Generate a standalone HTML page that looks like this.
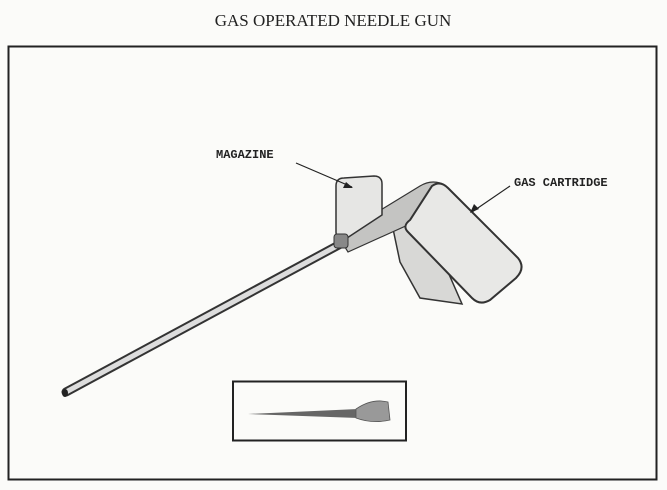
<!DOCTYPE html>
<html><head><style>
html,body{margin:0;padding:0;background:#fbfbf9;}
svg{display:block}
</style></head><body>
<svg width="667" height="490" viewBox="0 0 667 490" xmlns="http://www.w3.org/2000/svg">
<rect width="667" height="490" fill="#fbfbf9"/>
<text x="333" y="26" text-anchor="middle" font-family="Liberation Serif, serif" font-size="17" fill="#222">GAS OPERATED NEEDLE GUN</text>
<rect x="8.5" y="46.5" width="648" height="433" fill="none" stroke="#222" stroke-width="2"/>
<!-- barrel -->
<line x1="66" y1="392" x2="348" y2="240" stroke="#333" stroke-width="9" stroke-linecap="round"/>
<line x1="66" y1="392" x2="348" y2="240" stroke="#ddd" stroke-width="5" stroke-linecap="round"/>
<ellipse cx="65" cy="393" rx="3" ry="4" fill="#222"/>
<!-- grip -->
<path d="M392 224 L400 262 L420 298 L462 304 L448 272 L412 226 Z" fill="#d8d8d6" stroke="#333" stroke-width="1.5"/>
<!-- body tube / top -->
<path d="M338 236 L420 186 Q430 180 440 183 L410 224 L348 252 Z" fill="#c4c4c2" stroke="#333" stroke-width="1.2"/>
<!-- magazine -->
<path d="M336 186 Q336 178 344 178 L374 176 Q382 176 382 184 L382 215 L344 240 Q336 240 336 232 Z" fill="#e6e6e4" stroke="#333" stroke-width="1.5"/>
<rect x="334" y="234" width="14" height="14" rx="3" fill="#888" stroke="#333"/>
<!-- cartridge face -->
<path d="M432 186 Q440 180 448 188 L518 258 Q526 268 516 278 L490 300 Q480 306 472 298 L408 232 Q402 226 410 220 Z" fill="#e8e8e6" stroke="#333" stroke-width="2"/>
<!-- labels -->
<text x="216" y="158" font-family="Liberation Mono, monospace" font-weight="bold" font-size="12" fill="#222">MAGAZINE</text>
<line x1="296" y1="163" x2="352" y2="187" stroke="#222" stroke-width="1.2"/>
<path d="M353 188 L343 188 L346 182 Z" fill="#222"/>
<text x="514" y="186" font-family="Liberation Mono, monospace" font-weight="bold" font-size="12" fill="#222">GAS CARTRIDGE</text>
<line x1="510" y1="186" x2="472" y2="212" stroke="#222" stroke-width="1.2"/>
<path d="M470 213 L474 204 L479 209 Z" fill="#222"/>
<!-- inset -->
<rect x="233" y="381.5" width="173" height="59" fill="none" stroke="#222" stroke-width="2"/>
<path d="M248 414 L358 409 L358 418 Z" fill="#666"/>
<path d="M356 409 Q372 398 388 402 L390 420 Q372 424 356 418 Z" fill="#999" stroke="#555" stroke-width="0.8"/>
</svg>
</body></html>
